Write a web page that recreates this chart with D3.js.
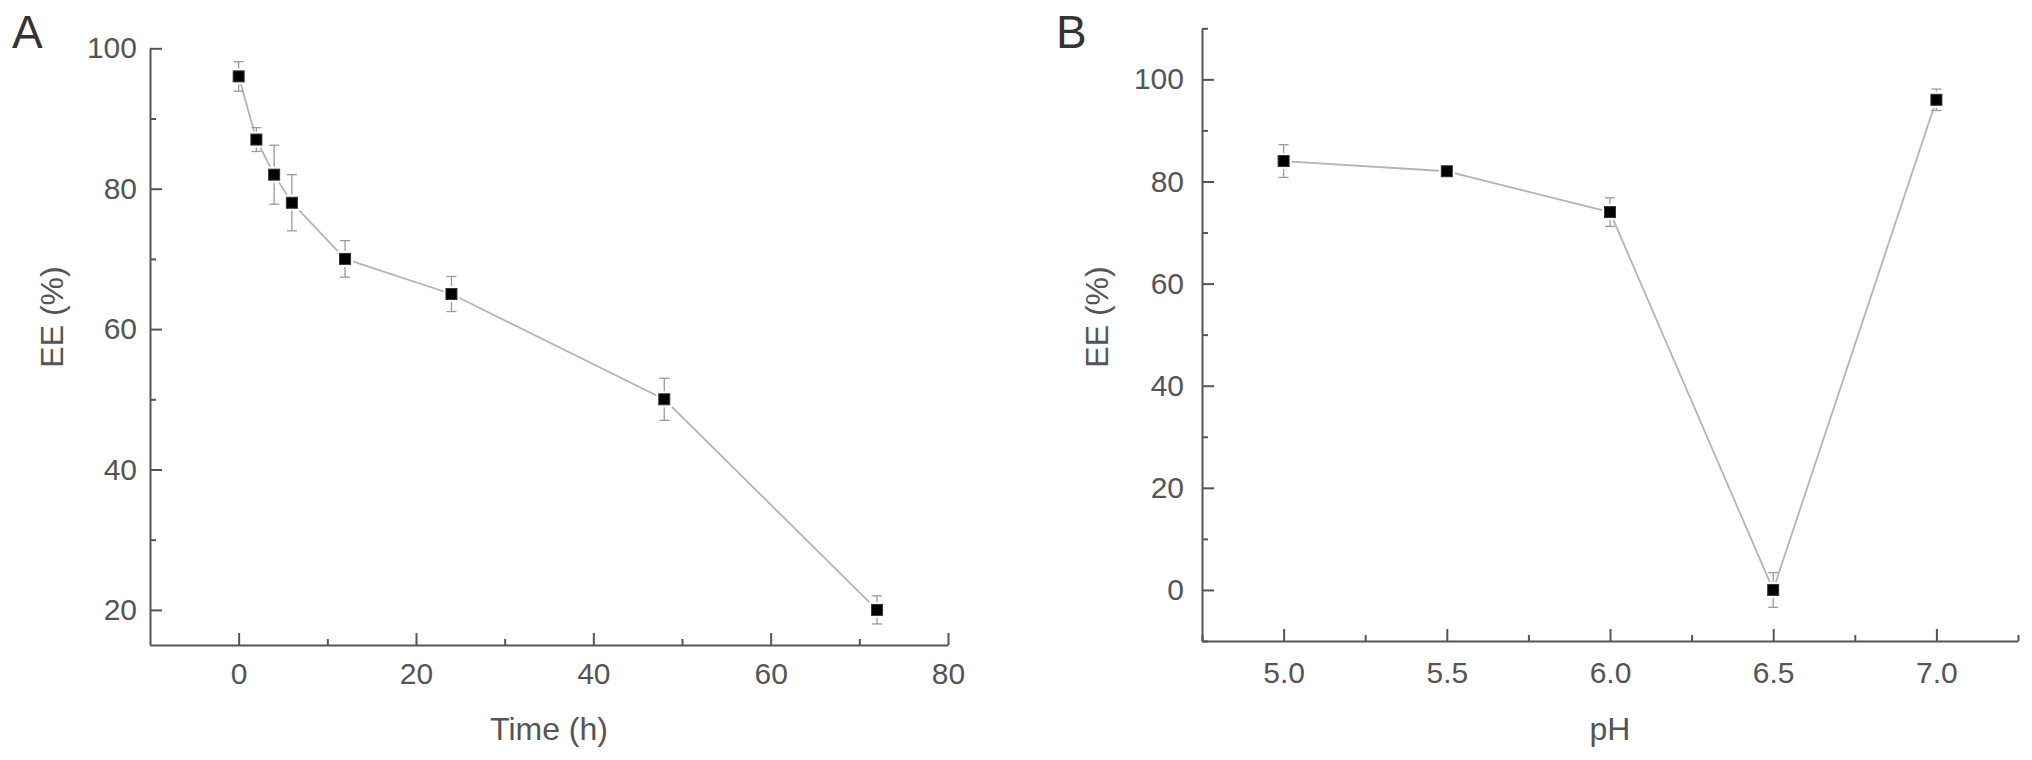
<!DOCTYPE html>
<html>
<head>
<meta charset="utf-8">
<script src="https://cdnjs.cloudflare.com/ajax/libs/d3/7.8.5/d3.min.js"></script>
<style>
    body { margin: 0; background: #fff; }
    svg text { font-family: "Liberation Sans", Arial, sans-serif; fill: #555; }
</style>
</head>
<body>
<div id="chart"></div>
<script>
// panel A: EE over time
var timeHours = [0, 2, 4, 6, 12, 24, 48, 72];
var timeEE = [96, 87, 82, 78, 70, 65, 50, 20];
var timeErr = [2.1, 1.7, 4.2, 4, 2.6, 2.5, 3, 2];
var timeMajor = [0, 20, 40, 60, 80];
var timeMinor = [10, 30, 50, 70];
var eeMajorA = [20, 40, 60, 80, 100];
var eeMinorA = [30, 50, 70, 90];

// panel B: EE over pH
var phValues = [5.0, 5.5, 6.0, 6.5, 7.0];
var phEE = [84, 82, 74, 0, 96];
var phErr = [3.2, 0.8, 2.8, 3.4, 2.1];
var phMajor = [5.0, 5.5, 6.0, 6.5, 7.0];
var phMinor = [4.75, 5.25, 5.75, 6.25, 6.75, 7.25];
var eeMajorB = [0, 20, 40, 60, 80, 100];
var eeMinorB = [-10, 10, 30, 50, 70, 90, 110];

var width = 2032;
var height = 760;

var svg = d3.select("#chart")
    .append("svg")
    .attr("width", width)
    .attr("height", height);

function drawPanel(opt) {
    var x = d3.scaleLinear().domain(opt.xDomain).range(opt.xRange);
    var y = d3.scaleLinear().domain(opt.yDomain).range(opt.yRange);
    var g = svg.append("g");

    // minor ticks first, no labels
    g.append("g")
        .attr("transform", "translate(0," + opt.yRange[0] + ")")
        .call(d3.axisBottom(x).tickValues(opt.xMinor).tickSize(-6).tickFormat(""))
        .call(function (a) { a.select(".domain").remove(); });
    g.append("g")
        .attr("transform", "translate(" + opt.xRange[0] + ",0)")
        .call(d3.axisLeft(y).tickValues(opt.yMinor).tickSize(-6).tickFormat(""))
        .call(function (a) { a.select(".domain").remove(); });

    var xAxis = g.append("g")
        .attr("transform", "translate(0," + opt.yRange[0] + ")")
        .call(d3.axisBottom(x).tickValues(opt.xMajor).tickSizeInner(-12).tickSizeOuter(0)
            .tickPadding(opt.xPad).tickFormat(opt.xFormat));
    var yAxis = g.append("g")
        .attr("transform", "translate(" + opt.xRange[0] + ",0)")
        .call(d3.axisLeft(y).tickValues(opt.yMajor).tickSizeInner(-12).tickSizeOuter(0)
            .tickPadding(opt.yPad).tickFormat(d3.format("d")));

    g.selectAll(".tick line, .domain")
        .attr("stroke", "#555")
        .attr("stroke-width", 2);
    g.selectAll(".tick text")
        .attr("font-size", 30)
        .style("fill", "#555");

    // connecting line
    var pts = opt.xs.map(function (d, i) { return [x(d), y(opt.ys[i])]; });
    g.append("path")
        .attr("d", d3.line()(pts))
        .attr("fill", "none")
        .attr("stroke", "#b4b4b4")
        .attr("stroke-width", 1.8);

    // error bars
    var err = g.selectAll(".err")
        .data(opt.xs)
        .enter()
        .append("g");
    err.append("line")
        .attr("x1", function (d) { return x(d); })
        .attr("x2", function (d) { return x(d); })
        .attr("y1", function (d, i) { return y(opt.ys[i] + opt.errs[i]); })
        .attr("y2", function (d, i) { return y(opt.ys[i] - opt.errs[i]); });
    err.append("line")
        .attr("x1", function (d) { return x(d) - 5; })
        .attr("x2", function (d) { return x(d) + 5; })
        .attr("y1", function (d, i) { return y(opt.ys[i] + opt.errs[i]); })
        .attr("y2", function (d, i) { return y(opt.ys[i] + opt.errs[i]); });
    err.append("line")
        .attr("x1", function (d) { return x(d) - 5; })
        .attr("x2", function (d) { return x(d) + 5; })
        .attr("y1", function (d, i) { return y(opt.ys[i] - opt.errs[i]); })
        .attr("y2", function (d, i) { return y(opt.ys[i] - opt.errs[i]); });
    err.selectAll("line")
        .attr("stroke", "#9a9a9a")
        .attr("stroke-width", 1.3);

    // white halo then black square marker
    g.selectAll(".halo")
        .data(opt.xs)
        .enter()
        .append("rect")
        .attr("x", function (d) { return x(d) - 8; })
        .attr("y", function (d, i) { return y(opt.ys[i]) - 8; })
        .attr("width", 16)
        .attr("height", 16)
        .attr("fill", "#fff");
    g.selectAll(".mark")
        .data(opt.xs)
        .enter()
        .append("rect")
        .attr("x", function (d) { return x(d) - 5.5; })
        .attr("y", function (d, i) { return y(opt.ys[i]) - 5.5; })
        .attr("width", 11)
        .attr("height", 11)
        .attr("fill", "#000")
        .attr("stroke", "#333")
        .attr("stroke-width", 1);

    // panel letter and axis titles
    g.append("text")
        .attr("x", opt.letterX)
        .attr("y", 48)
        .attr("font-size", 46)
        .style("fill", "#333")
        .text(opt.letter);
    g.append("text")
        .attr("transform", "translate(" + opt.yLabelX + ",317) rotate(-90)")
        .attr("text-anchor", "middle")
        .attr("font-size", 32)
        .text("EE (%)");
    g.append("text")
        .attr("x", (opt.xRange[0] + opt.xRange[1]) / 2)
        .attr("y", 740)
        .attr("text-anchor", "middle")
        .attr("font-size", 32)
        .text(opt.xLabel);
}

drawPanel({
    xs: timeHours, ys: timeEE, errs: timeErr,
    xDomain: [-10, 80], xRange: [150, 948],
    yDomain: [15, 100], yRange: [645, 48.3],
    xMajor: timeMajor, xMinor: timeMinor,
    yMajor: eeMajorA, yMinor: eeMinorA,
    xFormat: d3.format("d"), xPad: 18, yPad: 13,
    letter: "A", letterX: 12, yLabelX: 63, xLabel: "Time (h)"
});

drawPanel({
    xs: phValues, ys: phEE, errs: phErr,
    xDomain: [4.75, 7.25], xRange: [1202, 2018],
    yDomain: [-10, 110], yRange: [641, 28.3],
    xMajor: phMajor, xMinor: phMinor,
    yMajor: eeMajorB, yMinor: eeMinorB,
    xFormat: d3.format(".1f"), xPad: 21, yPad: 18,
    letter: "B", letterX: 1056, yLabelX: 1108, xLabel: "pH"
});
</script>
</body>
</html>
